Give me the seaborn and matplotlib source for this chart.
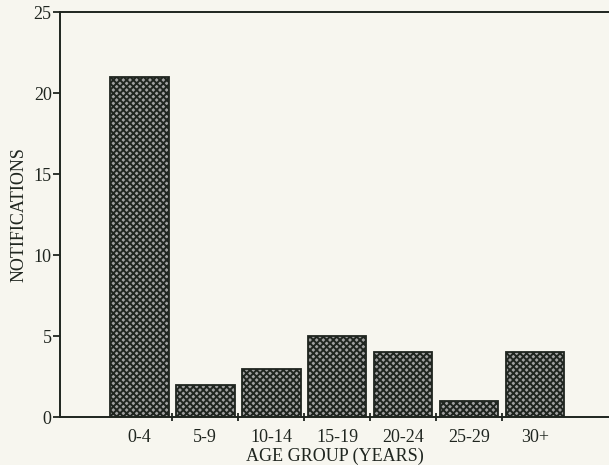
import numpy as np
import pandas as pd
import matplotlib
matplotlib.use("Agg")
import matplotlib.pyplot as plt
import seaborn as sns

age_groups = ["0-4", "5-9", "10-14", "15-19", "20-24", "25-29", "30+"]
notifications = [21, 2, 3, 5, 4, 1, 4]

df = pd.DataFrame({"age": age_groups, "n": notifications})

sns.set_style("white")
plt.rcParams["font.family"] = ["Liberation Serif", "DejaVu Serif"]
plt.rcParams["hatch.linewidth"] = 1.4
plt.rcParams["hatch.color"] = "#111111"

paper = "#f7f6ef"
ink = "#1f251f"

fig = plt.figure(figsize=(6.09, 4.65), dpi=100, facecolor=paper)
ax = fig.add_axes([0.0985, 0.103, 0.9015, 0.871])
ax.set_facecolor(paper)

sns.barplot(data=df, x="age", y="n", order=age_groups, color="#a0a0a0",
            width=0.89, edgecolor=ink, linewidth=1.3, saturation=1, ax=ax)
for p in ax.patches:
    p.set_hatch("xxxxx")

ax.set_xlim(-1.2, 7.12)
ax.set_ylim(0, 25)
ax.set_yticks(np.arange(0, 26, 5))
ax.set_xticks(np.arange(len(age_groups)))
ax.set_xticks(np.arange(len(age_groups) - 1) + 0.5, minor=True)
ax.tick_params(axis="x", which="major", bottom=False, labelsize=13, pad=5, colors=ink)
ax.tick_params(axis="x", which="minor", bottom=True, length=6, width=1.3,
               direction="inout", color=ink)
ax.tick_params(axis="y", which="major", left=True, length=5, width=1.3, direction="out",
               labelsize=13, pad=1, colors=ink)

for side in ["left", "top", "bottom"]:
    ax.spines[side].set_visible(True)
    ax.spines[side].set_color(ink)
    ax.spines[side].set_linewidth(1.4)
ax.spines["right"].set_visible(False)

ax.set_xlabel("AGE GROUP (YEARS)", fontsize=13, color=ink, labelpad=1)
ax.set_ylabel("NOTIFICATIONS", fontsize=13, color=ink, labelpad=4)

fig.savefig("out.png", dpi=100, facecolor=paper)
